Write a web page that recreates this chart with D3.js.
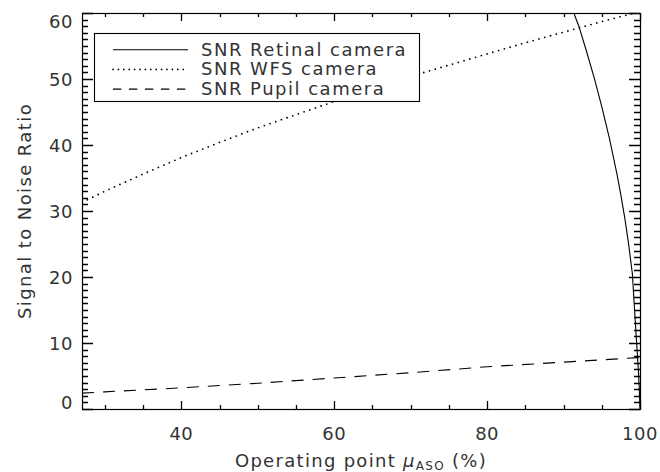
<!DOCTYPE html>
<html>
<head>
<meta charset="utf-8">
<script src="https://cdn.jsdelivr.net/npm/d3@7"></script>
<style>
  html, body { margin: 0; padding: 0; background: #fff; }
  text { font-family: "DejaVu Sans", sans-serif; fill: #333; }
</style>
</head>
<body>
<svg id="chart" width="660" height="472"></svg>
<script>
// ---- data ----
const muWFS  = [27, 30, 35, 40, 45, 50, 55, 60, 65, 70, 75, 80, 85, 90, 95, 100];
const snrWFS = [31.3, 33.0, 35.6, 38.1, 40.4, 42.6, 44.6, 46.6, 48.5, 50.4, 52.1, 53.8, 55.5, 57.1, 58.7, 60.2];

const muPupil  = [27, 30, 40, 50, 60, 70, 80, 90, 100];
const snrPupil = [2.4, 2.6, 3.2, 3.9, 4.7, 5.5, 6.4, 7.1, 7.8];

const muRetinal  = [91.0, 91.5, 92, 93, 94, 95, 96, 97, 97.5, 98, 98.5, 99, 99.3, 99.6, 99.8, 99.9, 100];
const snrRetinal = [61.5, 59.5, 58.0, 54.2, 50.2, 45.8, 41.0, 35.5, 32.4, 29.0, 25.1, 20.5, 14.8, 9.3, 5.6, 3.2, 0];

const xMajorTicks = [40, 60, 80, 100];
const xMinorTicks = [30, 35, 45, 50, 55, 65, 70, 75, 85, 90, 95];
const yMajorTicks = [0, 10, 20, 30, 40, 50, 60];
const yMinorTicks = d3.range(0, 61).filter(v => v % 10 !== 0);

const legendLabels = ["SNR Retinal camera", "SNR WFS camera", "SNR Pupil camera"];

// ---- layout ----
const L = 82, R = 640, T = 13, B = 409;
const svg = d3.select("#chart");
const x = d3.scaleLinear().domain([27, 100]).range([L, R]);
const y = d3.scaleLinear().domain([0, 60]).range([B, T]);

svg.append("rect").attr("width", 660).attr("height", 472).attr("fill", "#fff");

svg.append("clipPath").attr("id", "clip")
  .append("rect").attr("x", L).attr("y", T).attr("width", R - L).attr("height", B - T);

// ---- frame ----
svg.append("rect").attr("x", L + 0.5).attr("y", T + 0.5).attr("width", R - L).attr("height", B - T)
  .attr("fill", "none").attr("stroke", "#000").attr("stroke-width", 1.2);

// ---- ticks (built from the scales) ----
const xMajLen = 8, xMinLen = 4, yMajLen = 11, yMinLen = 6;
let tickPath = "";
function px(v) { return Math.round(v) + 0.5; }
[[xMajorTicks, xMajLen], [xMinorTicks, xMinLen]].forEach(([vals, len]) => {
  vals.forEach(v => {
    const xx = px(x(v));
    tickPath += `M${xx},${B}V${B - len}M${xx},${T}V${T + len}`;
  });
});
[[yMajorTicks, yMajLen], [yMinorTicks, yMinLen]].forEach(([vals, len]) => {
  vals.forEach(v => {
    const yy = px(y(v));
    tickPath += `M${L},${yy}H${L + len}M${R},${yy}H${R - len}`;
  });
});
svg.append("path").attr("d", tickPath).attr("fill", "none")
  .attr("stroke", "#000").attr("stroke-width", 1.3);

// tick labels
const fs = 18;
svg.append("g").selectAll("text").data(xMajorTicks).join("text")
  .attr("x", d => x(d)).attr("y", 440).attr("text-anchor", "middle")
  .attr("font-size", fs).attr("letter-spacing", 0.5).text(d => d);
svg.append("g").selectAll("text").data(yMajorTicks).join("text")
  .attr("x", 73).attr("y", d => Math.min(402, Math.max(21, y(d))) + 6.5).attr("text-anchor", "end")
  .attr("font-size", fs).attr("letter-spacing", 0.5).text(d => d);

// axis titles
const xt = svg.append("text").attr("x", (L + R) / 2).attr("y", 467).attr("text-anchor", "middle")
  .attr("font-size", fs).attr("letter-spacing", 1.3);
xt.append("tspan").text("Operating point ");
xt.append("tspan").attr("font-style", "italic").text("μ");
xt.append("tspan").attr("font-size", 12).attr("dy", 3).text("ASO");
xt.append("tspan").attr("dy", -3).text(" (%)");

svg.append("text").attr("transform", `translate(31,${(T + B) / 2}) rotate(-90)`)
  .attr("text-anchor", "middle").attr("font-size", fs).attr("letter-spacing", 1.4).text("Signal to Noise Ratio");

// ---- lines ----
const line = d3.line().x(d => x(d[0])).y(d => y(d[1]));
const plot = svg.append("g").attr("clip-path", "url(#clip)");
const series = [
  { mu: muRetinal, snr: snrRetinal, dash: null, w: 1.1, cap: "butt" },
  { mu: muWFS, snr: snrWFS, dash: "0,6", w: 1.8, cap: "round" },
  { mu: muPupil, snr: snrPupil, dash: "12,9", w: 1.1, cap: "butt" }
];
series.forEach(s => {
  plot.append("path").datum(d3.zip(s.mu, s.snr))
    .attr("d", line).attr("fill", "none").attr("stroke", "#000").attr("stroke-width", s.w)
    .attr("stroke-linecap", s.cap).attr("stroke-dasharray", s.dash);
});

// ---- legend ----
const lg = svg.append("g");
lg.append("rect").attr("x", 94.5).attr("y", 33.5).attr("width", 325).attr("height", 68)
  .attr("fill", "#fff").attr("stroke", "#000").attr("stroke-width", 1.1);
const legendDash = [null, "0,5.4", "8.3,7.7"];
const legendW = [1.1, 1.7, 1.1];
const legendCap = ["butt", "round", "butt"];
legendLabels.forEach((lab, i) => {
  const by = 55.7 + i * 19.7;
  lg.append("line").attr("x1", 113).attr("x2", 188).attr("y1", by - 6).attr("y2", by - 6)
    .attr("stroke", "#000").attr("stroke-width", legendW[i]).attr("stroke-linecap", legendCap[i])
    .attr("stroke-dasharray", legendDash[i]);
  lg.append("text").attr("x", 201).attr("y", by).attr("font-size", fs).attr("letter-spacing", 1.5).text(lab);
});
</script>
</body>
</html>
